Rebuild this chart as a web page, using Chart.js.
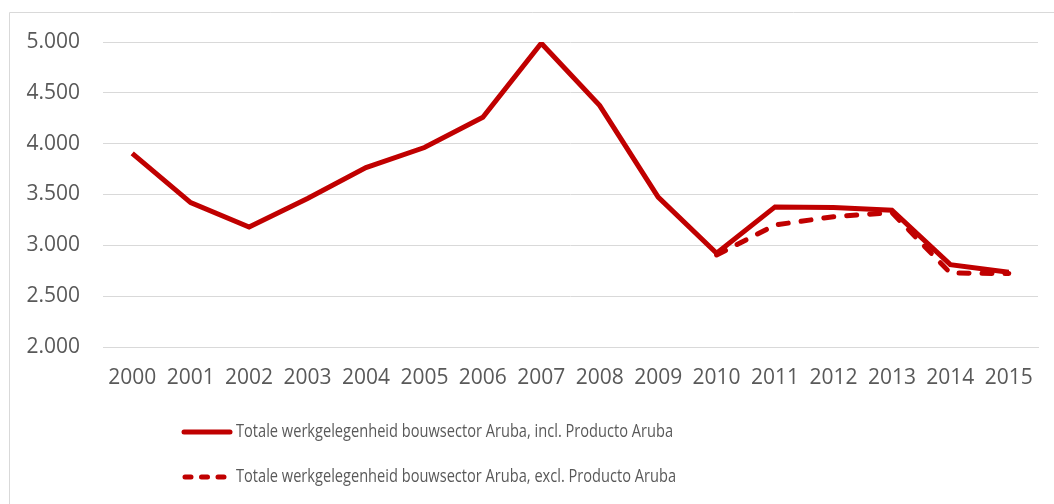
<!DOCTYPE html>
<html>
<head>
<meta charset="utf-8">
<script src="https://cdn.jsdelivr.net/npm/chart.js@4"></script>
<style>
  html, body { margin: 0; padding: 0; background: #fff; }
  #wrap { width: 1054px; height: 504px; }
</style>
</head>
<body>
<div id="wrap"><canvas id="chart" width="1054" height="504"></canvas></div>
<script>
const years = ["2000","2001","2002","2003","2004","2005","2006","2007","2008","2009","2010","2011","2012","2013","2014","2015"];
const inclProducto = [3905, 3420, 3180, 3460, 3765, 3962, 4260, 4988, 4375, 3475, 2922, 3378, 3372, 3345, 2810, 2735];
const exclProducto = [null, null, null, null, null, null, null, null, null, null, 2905, 3200, 3282, 3322, 2728, 2722];
const labelIncl = "Totale werkgelegenheid bouwsector Aruba, incl. Producto Aruba";
const labelExcl = "Totale werkgelegenheid bouwsector Aruba, excl. Producto Aruba";

const red = "#C00000";
const textGray = "#595959";
const gridGray = "#d9d9d9";
const fontFamily = "'Open Sans', sans-serif";

// frame + legend drawn on the canvas
const framePlugin = {
  id: "frame",
  beforeDraw(chart) {
    const ctx = chart.ctx;
    ctx.save();
    ctx.strokeStyle = gridGray;
    ctx.lineWidth = 1;
    ctx.beginPath();
    ctx.moveTo(9.5, 600);
    ctx.lineTo(9.5, 12.5);
    ctx.lineTo(1060, 12.5);
    ctx.stroke();
    ctx.restore();
  },
  afterDraw(chart) {
    const ctx = chart.ctx;
    const rows = [432, 477];
    ctx.save();
    chart.data.datasets.forEach((ds, i) => {
      const y = rows[i];
      ctx.strokeStyle = ds.borderColor;
      ctx.lineWidth = 5;
      ctx.lineCap = "round";
      ctx.setLineDash(i === 0 ? [] : [6, 10.5]);
      ctx.beginPath();
      ctx.moveTo(i === 0 ? 184 : 185, y);
      ctx.lineTo(i === 0 ? 230 : 224, y);
      ctx.stroke();
      ctx.setLineDash([]);
      ctx.fillStyle = textGray;
      ctx.font = "18.5px " + fontFamily;
      ctx.textBaseline = "middle";
      ctx.fillText(ds.label, 236, y, i === 0 ? 437 : 440);
    });
    ctx.restore();
  }
};

new Chart(document.getElementById("chart"), {
  type: "line",
  data: {
    labels: years,
    datasets: [
      {
        label: labelIncl,
        data: inclProducto,
        borderColor: red,
        backgroundColor: red,
        borderWidth: 5,
        pointRadius: 0,
        tension: 0,
        order: 2
      },
      {
        label: labelExcl,
        data: exclProducto,
        borderColor: red,
        backgroundColor: red,
        borderWidth: 5,
        borderDash: [10, 13],
        borderCapStyle: "round",
        pointRadius: 0,
        tension: 0,
        order: 1
      }
    ]
  },
  options: {
    responsive: false,
    animation: false,
    layout: { padding: { top: 42, right: 16, left: 0, bottom: 0 } },
    plugins: {
      legend: { display: false },
      tooltip: { enabled: false }
    },
    scales: {
      x: {
        offset: true,
        grid: { display: false, drawTicks: false },
        border: { display: true, color: gridGray },
        ticks: {
          color: textGray,
          font: { family: fontFamily, size: 21 },
          padding: 18,
          maxRotation: 0,
          autoSkip: false
        },
        afterFit(scale) { scale.height = 504 - 347; }
      },
      y: {
        min: 2000,
        max: 5000,
        grid: { color: gridGray, lineWidth: 1, drawTicks: false },
        border: { display: false },
        ticks: {
          stepSize: 500,
          color: textGray,
          font: { family: fontFamily, size: 21 },
          padding: 23,
          callback: v => v.toLocaleString("nl-NL")
        },
        afterFit(scale) { scale.width = 103; }
      }
    }
  },
  plugins: [framePlugin]
});
</script>
</body>
</html>
